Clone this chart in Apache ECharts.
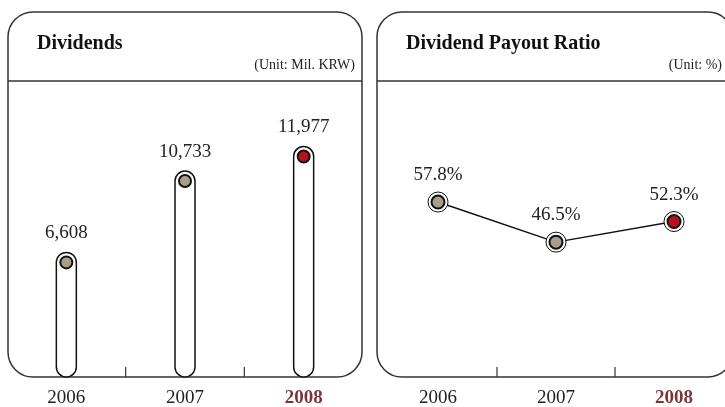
<!DOCTYPE html>
<html>
<head>
<meta charset="utf-8">
<script src="https://cdn.jsdelivr.net/npm/echarts@6/dist/echarts.min.js"></script>
<style>html,body{margin:0;padding:0;background:#fff}#c{width:725px;height:407px}</style>
</head>
<body>
<div id="c"></div>
<script>
const years = ['2006', '2007', '2008'];
const dividends = [6608, 10733, 11977];
const payoutRatio = [57.8, 46.5, 52.3];
const dividendLabels = ['6,608', '10,733', '11,977'];
const payoutLabels = ['57.8%', '46.5%', '52.3%'];

const SERIF = '"Liberation Serif", "DejaVu Serif", serif';
const TAUPE = '#a89f8a';
const RED = '#b5121b';
const INK = '#111';
const HL = '#7b3535';
const leftMin = 800, leftMax = 15800;
const rightMin = 8.5, rightMax = 91.9;
const lastIdx = years.length - 1;

function tickEl(api, idx, yVal) {
  if (idx >= lastIdx) return null;
  const p = api.coord([idx, yVal]);
  const half = api.size([1, 0])[0] / 2;
  const x = p[0] + half;
  return { type: 'line', shape: { x1: x, y1: p[1] - 10, x2: x, y2: p[1] }, style: { stroke: '#333', lineWidth: 1.2 } };
}

function barItem(params, api) {
  const idx = api.value(0);
  const val = api.value(1);
  const p = api.coord([idx, val]);
  const base = api.coord([idx, leftMin])[1];
  const r = 10;
  const children = [
    { type: 'rect', shape: { x: p[0] - r, y: p[1] - r, width: 2 * r, height: base - (p[1] - r), r: r },
      style: { fill: '#fff', stroke: INK, lineWidth: 1.5 } },
    { type: 'circle', shape: { cx: p[0], cy: p[1], r: 6 },
      style: { fill: idx === lastIdx ? RED : TAUPE, stroke: INK, lineWidth: 2 } },
    { type: 'text', x: p[0], y: p[1] - 29,
      style: { text: dividendLabels[idx], font: '19px ' + SERIF, fill: '#222', align: 'center', verticalAlign: 'middle' } }
  ];
  const t = tickEl(api, idx, leftMin);
  if (t) children.push(t);
  return { type: 'group', children: children };
}

function dotItem(params, api) {
  const idx = api.value(0);
  const val = api.value(1);
  const p = api.coord([idx, val]);
  const children = [
    { type: 'circle', shape: { cx: p[0], cy: p[1], r: 10 }, style: { fill: '#fff', stroke: INK, lineWidth: 1 } },
    { type: 'circle', shape: { cx: p[0], cy: p[1], r: 6.5 },
      style: { fill: idx === lastIdx ? RED : TAUPE, stroke: INK, lineWidth: 2 } },
    { type: 'text', x: p[0], y: p[1] - 27,
      style: { text: payoutLabels[idx], font: '19px ' + SERIF, fill: '#222', align: 'center', verticalAlign: 'middle' } }
  ];
  const t = tickEl(api, idx, rightMin);
  if (t) children.push(t);
  return { type: 'group', children: children };
}

const xLabel = {
  margin: 12,
  fontFamily: SERIF, fontSize: 19, color: '#222',
  formatter: function (v, i) { return i === lastIdx ? '{hl|' + v + '}' : v; },
  rich: { hl: { fontFamily: SERIF, fontSize: 19, fontWeight: 'bold', color: HL } }
};

function panel(x, w, title, unit, unitRight) {
  return [
    { type: 'rect', z: 1, shape: { x: x, y: 12, width: w, height: 365, r: 25 },
      style: { fill: 'none', stroke: '#333', lineWidth: 1.5 } },
    { type: 'line', z: 1, shape: { x1: x, y1: 81, x2: x + w, y2: 81 }, style: { stroke: '#333', lineWidth: 1.5 } },
    { type: 'text', z: 1, x: x + 29, y: 44,
      style: { text: title, font: 'bold 20px ' + SERIF, fill: '#111', align: 'left', verticalAlign: 'middle' } },
    { type: 'text', z: 1, x: unitRight, y: 65,
      style: { text: unit, font: '14px ' + SERIF, fill: '#222', align: 'right', verticalAlign: 'middle' } }
  ];
}

const chart = echarts.init(document.getElementById('c'), null, { renderer: 'canvas' });
chart.setOption({
  animation: false,
  backgroundColor: '#fff',
  grid: [
    { left: 7, top: 81, width: 356, height: 296, outerBoundsMode: 'none', containLabel: false },
    { left: 379, top: 81, width: 354, height: 296, outerBoundsMode: 'none', containLabel: false }
  ],
  xAxis: [
    { type: 'category', gridIndex: 0, data: years, axisLine: { show: false }, axisTick: { show: false }, axisLabel: xLabel },
    { type: 'category', gridIndex: 1, data: years, axisLine: { show: false }, axisTick: { show: false }, axisLabel: xLabel }
  ],
  yAxis: [
    { type: 'value', gridIndex: 0, min: leftMin, max: leftMax, show: false, splitLine: { show: false } },
    { type: 'value', gridIndex: 1, min: rightMin, max: rightMax, show: false, splitLine: { show: false } }
  ],
  graphic: panel(8, 354, 'Dividends', '(Unit: Mil. KRW)', 355).concat(panel(377, 356, 'Dividend Payout Ratio', '(Unit: %)', 722)),
  series: [
    { type: 'custom', xAxisIndex: 0, yAxisIndex: 0, renderItem: barItem, clip: false,
      data: dividends.map(function (v, i) { return [i, v]; }) },
    { type: 'line', xAxisIndex: 1, yAxisIndex: 1, data: payoutRatio, symbol: 'none',
      lineStyle: { color: INK, width: 1.5 }, z: 2 },
    { type: 'custom', xAxisIndex: 1, yAxisIndex: 1, renderItem: dotItem, clip: false, z: 3,
      data: payoutRatio.map(function (v, i) { return [i, v]; }) }
  ]
});
</script>
</body>
</html>
